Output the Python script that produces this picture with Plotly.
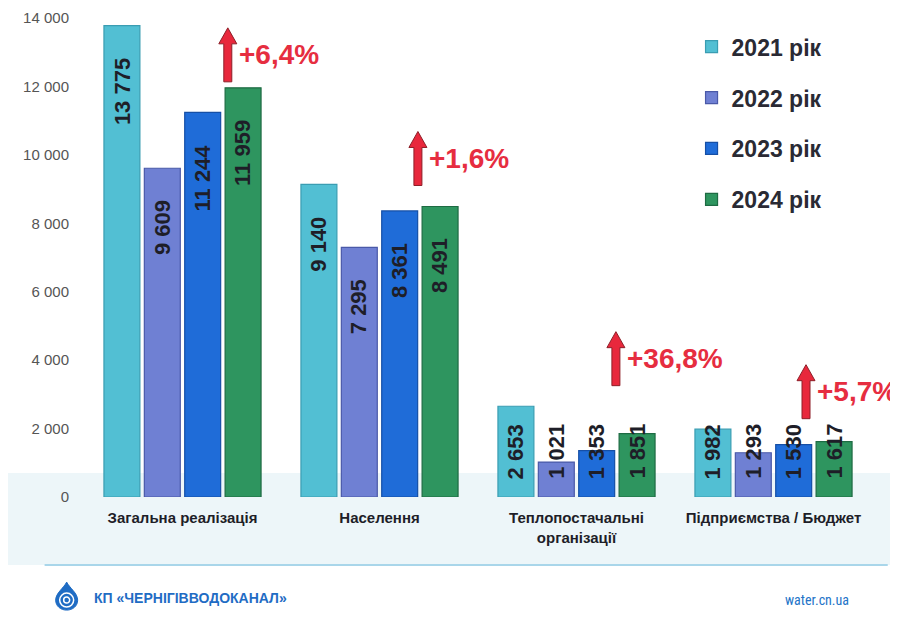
import plotly.graph_objects as go

# data
categories = ["Загальна реалізація", "Населення", "Теплопостачальні<br>організації", "Підприємства / Бюджет"]
years = ["2021 рік", "2022 рік", "2023 рік", "2024 рік"]
v2021 = [13775, 9140, 2653, 1982]
v2022 = [9609, 7295, 1021, 1293]
v2023 = [11244, 8361, 1353, 1530]
v2024 = [11959, 8491, 1851, 1617]

series = [v2021, v2022, v2023, v2024]
fills = ["#52bfd3", "#6f80d3", "#1f6cd8", "#2e955f"]
edges = ["#3a9db2", "#4a59a8", "#154fa6", "#1e6b43"]

BARGAP = 0.18
slot = (1 - BARGAP) / len(series)
bold = "Liberation Sans, Arial, sans-serif"
narrow = "Liberation Sans Narrow, Roboto Condensed, Arial Narrow, sans-serif"

fig = go.Figure()

for k, (name, vals, col, edge) in enumerate(zip(years, series, fills, edges)):
    fig.add_trace(go.Bar(
        x=categories, y=vals, name=name, legendgroup=name,
        marker=dict(color=col, line=dict(color=edge, width=1.2)),
        hoverinfo="skip",
    ))
    # vertical value labels
    for i, v in enumerate(vals):
        big = v > 3000
        fig.add_annotation(
            x=i + (k - 1.5) * slot, y=v if big else 0, xref="x", yref="y",
            text=f"{v:,}".replace(",", " "), showarrow=False, textangle=-90,
            xanchor="center", yanchor="top" if big else "bottom",
            yshift=-30 if big else 16,
            font=dict(family=bold, size=22, color="#1e1e28", weight="bold"),
        )

# growth arrows 2024 vs 2023
arrow_gap = [6, 21, 48, 23]
arrow_dx = [0.23, 0.195, 0.2, 0.165]
for i, (a, b) in enumerate(zip(v2023, v2024)):
    pct = (b / a - 1) * 100
    label = "+" + f"{pct:.1f}".replace(".", ",") + "%"
    g = arrow_gap[i]
    fig.add_shape(
        type="path", xref="x", yref="y", xsizemode="pixel", ysizemode="pixel",
        xanchor=i + arrow_dx[i], yanchor=b,
        path=f"M -4,{g} L 4,{g} L 4,{g+38} L 9,{g+38} L 0,{g+54} L -9,{g+38} L -4,{g+38} Z",
        fillcolor="#e8283c", line=dict(color="#8e1f28", width=1),
    )
    fig.add_annotation(
        x=i + arrow_dx[i], y=b, xref="x", yref="y", text=label, showarrow=False,
        xanchor="left", yanchor="middle", xshift=9, yshift=g + 27,
        font=dict(family=bold, size=28, color="#e62d40", weight="bold"),
    )

# light water band behind the floor + footer line
fig.add_shape(type="rect", xref="paper", yref="paper", x0=-0.11, x1=1.04, y0=-0.142, y1=0.05,
              fillcolor="#edf6f9", line_width=0, layer="below")
fig.add_shape(type="line", xref="paper", yref="paper", x0=-0.05, x1=1.02, y0=-0.142, y1=-0.142,
              line=dict(color="#a9d6ea", width=2), layer="below")

# footer logo
fig.add_shape(
    type="path", xref="paper", yref="paper", xsizemode="pixel", ysizemode="pixel",
    xanchor=-0.022, yanchor=-0.209,
    path="M 0,15 C 3,9 11,4 11,-3 C 11,-9 6,-13 0,-13 C -6,-13 -11,-9 -11,-3 C -11,4 -3,9 0,15 Z",
    fillcolor="#1f6cc4", line=dict(color="#1f6cc4", width=1),
)
fig.add_shape(type="circle", xref="paper", yref="paper", xsizemode="pixel", ysizemode="pixel",
              xanchor=-0.022, yanchor=-0.209, x0=-7, x1=7, y0=-10, y1=4,
              line=dict(color="white", width=1.5))
fig.add_shape(type="circle", xref="paper", yref="paper", xsizemode="pixel", ysizemode="pixel",
              xanchor=-0.022, yanchor=-0.209, x0=-3, x1=3, y0=-6, y1=0,
              line=dict(color="white", width=1.5))
fig.add_annotation(x=0.01, y=-0.211, xref="paper", yref="paper", showarrow=False,
                   text="КП «ЧЕРНІГІВВОДОКАНАЛ»", xanchor="left", yanchor="middle",
                   font=dict(family=bold, size=14, color="#1f6cc4", weight="bold"))
fig.add_annotation(x=0.973, y=-0.215, xref="paper", yref="paper", showarrow=False,
                   text="water.cn.ua", xanchor="right", yanchor="middle",
                   font=dict(family=narrow, size=14, color="#2474c8"))

fig.update_layout(
    width=890, height=610,
    margin=dict(l=76, r=26, t=10, b=121, autoexpand=False),
    paper_bgcolor="white", plot_bgcolor="rgba(0,0,0,0)",
    barmode="group", bargap=BARGAP, bargroupgap=0.11,
    legend=dict(x=0.771, y=0.985, xanchor="left", yanchor="top",
                bgcolor="rgba(0,0,0,0)", tracegroupgap=18,
                font=dict(family=bold, size=23, color="#2a2a34", weight="bold")),
    yaxis=dict(range=[0, 14000], dtick=2000, tickformat=",", showgrid=False, zeroline=False,
               showline=False, ticks="", ticklabelstandoff=14,
               tickfont=dict(family=bold, size=15, color="#555555")),
    xaxis=dict(range=[-0.5, 3.5], showgrid=False, showline=False, ticks="", ticklabelstandoff=10,
               tickfont=dict(family=bold, size=15, color="#1e1e28", weight="bold")),
    separators=", ",
)

fig.write_html("out.html")
